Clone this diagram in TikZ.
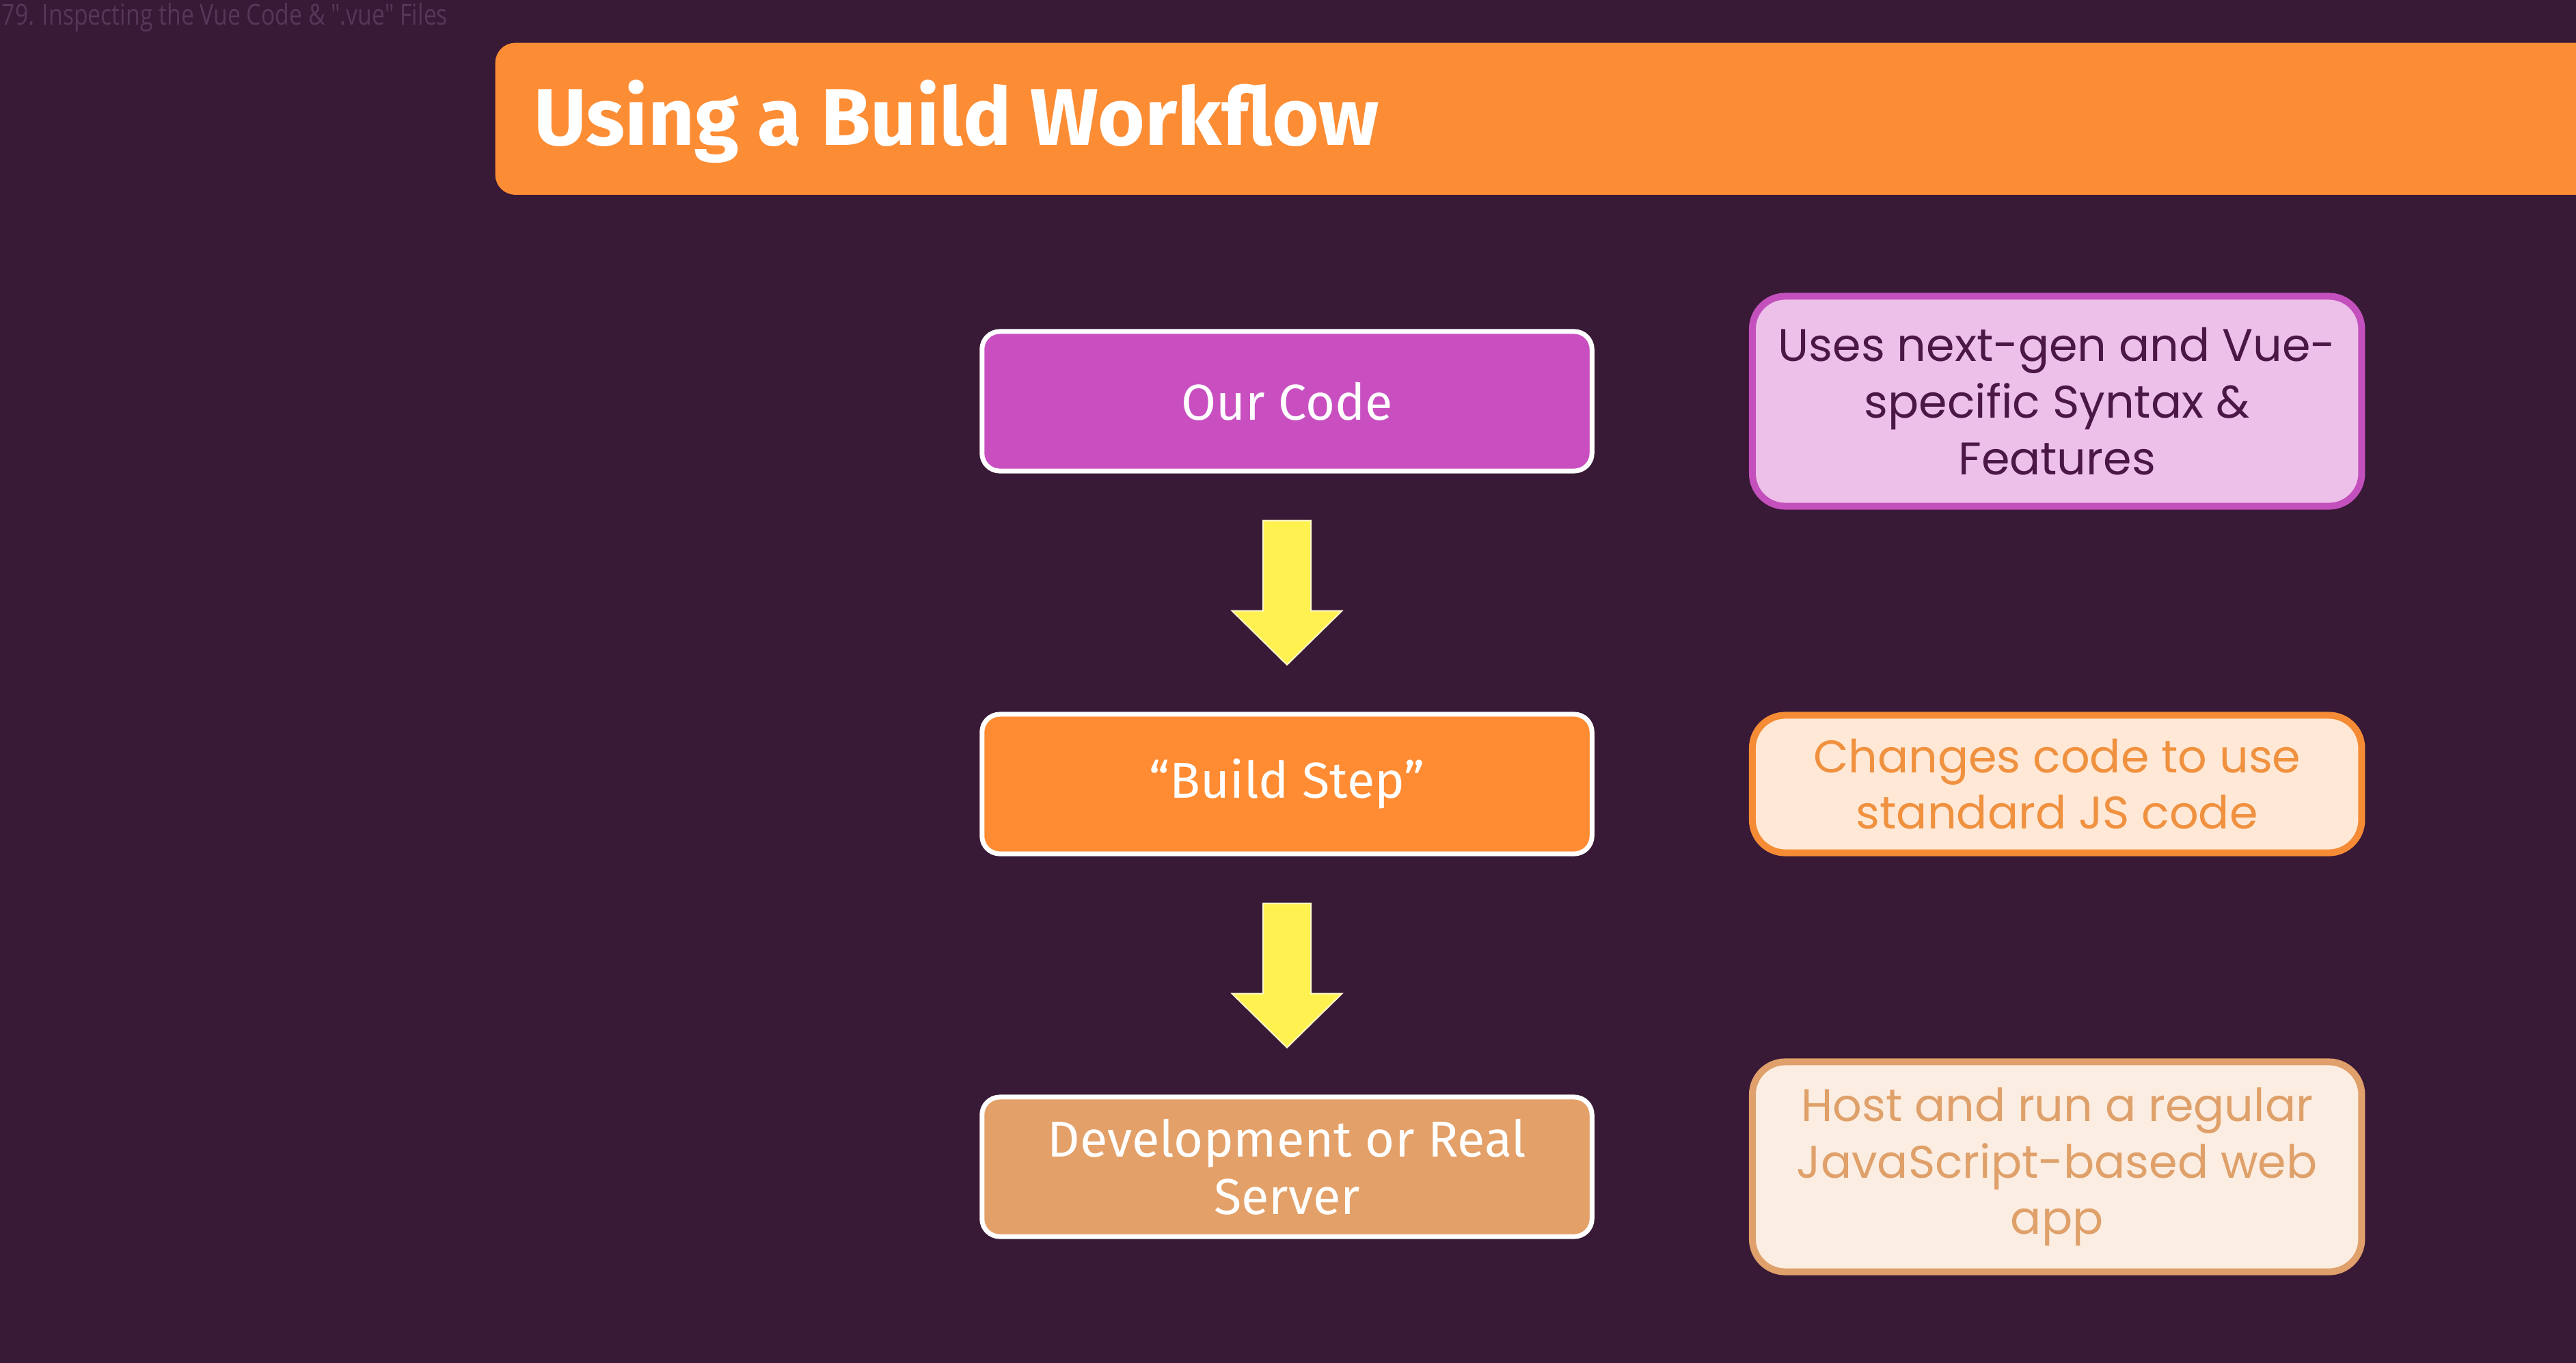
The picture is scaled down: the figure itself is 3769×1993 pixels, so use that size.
\documentclass[tikz,border=0pt]{standalone}
\usepackage{fontspec}
\setmainfont{Fira Sans}
\newfontfamily\notefont{Poppins}
\newfontfamily\headfont[FakeStretch=0.8]{Open Sans}
\usetikzlibrary{calc,positioning}
\definecolor{colorbg}{HTML}{381936}
\definecolor{colorhead}{HTML}{553858}
\definecolor{colortitle}{HTML}{FD8D35}
\definecolor{colorcode}{HTML}{C94FC1}
\definecolor{colorbuild}{HTML}{FF8C33}
\definecolor{colorserver}{HTML}{E3A068}
\definecolor{colorarrow}{HTML}{FFF250}
\definecolor{colorarrowline}{HTML}{FFF9C8}
\definecolor{colorcodebg}{HTML}{EDC0EA}
\definecolor{colorcodeline}{HTML}{C350BC}
\definecolor{colorcodetext}{HTML}{4B1846}
\definecolor{colorbuildbg}{HTML}{FFE8D6}
\definecolor{colorbuildline}{HTML}{F58C35}
\definecolor{colorbuildtext}{HTML}{F0913F}
\definecolor{colorserverbg}{HTML}{FBEDE1}
\definecolor{colorserverline}{HTML}{E0A06B}
\definecolor{colorservertext}{HTML}{DFA06A}
\tikzset{
  stepbox/.style={draw=white, line width=0.07cm, rounded corners=0.26cm,
    minimum width=8.92cm, minimum height=2.04cm, align=center, text=white,
    font=\fontsize{21}{24}\selectfont},
  notebox/.style={line width=0.1cm, rounded corners=0.48cm,
    minimum width=8.91cm, align=center,
    font=\notefont\fontsize{19}{23.5}\selectfont},
  flowarrow/.style={fill=colorarrow, draw=colorarrowline, line width=0.02cm}
}

\begin{document}
\begin{tikzpicture}[x=0.01cm, y=-0.01cm]
\useasboundingbox (0,0) rectangle (3769,1993);
\fill[colorbg] (-20,-20) rectangle (3789,2013);

\node[anchor=base west, inner sep=0pt, text=colorhead,
  font=\headfont\fontsize{12}{14}\selectfont] (head) at (2,36)
{79. Inspecting the Vue Code \& ".vue" Files};

\node[fill=colortitle, rounded corners=0.29cm, minimum width=31cm,
  minimum height=2.22cm, anchor=north west, inner sep=0pt] (bar) at (724,62) {};
\node[anchor=base west, inner sep=0pt, text=white,
  font=\bfseries\fontsize{33.5}{38}\selectfont] (title) at (781,212)
{Using a Build Workflow};

% main chain
\node[stepbox, fill=colorcode] (code) at (1883,587) {Our Code};
\node[stepbox, fill=colorbuild] (build) at (1883,1147) {“Build Step”};
\node[stepbox, fill=colorserver] (server) at (1883,1707)
{Development or Real\\Server};

% notes
\node[notebox, right=2.26cm of code, minimum height=3.07cm,
  draw=colorcodeline, fill=colorcodebg, text=colorcodetext] (codenote)
{Uses next-gen and Vue-\\specific Syntax \&\\Features};
\node[notebox, right=2.26cm of build, minimum height=2.01cm,
  draw=colorbuildline, fill=colorbuildbg, text=colorbuildtext] (buildnote)
{Changes code to use\\standard JS code};
\node[notebox, right=2.26cm of server, minimum height=3.07cm,
  draw=colorserverline, fill=colorserverbg, text=colorservertext] (servernote)
{Host and run a regular\\JavaScript-based web\\app};

% block arrows
\foreach \from/\to in {code/build, build/server} {
  \coordinate (mid) at ($(\from.south)!0.5!(\to.north)$);
  \draw[flowarrow] (mid) ++(-35,-105.5) -- ++(70,0) -- ++(0,132)
    -- ++(45.5,0) -- ++(-80.5,79) -- ++(-80.5,-79) -- ++(45.5,0) -- cycle;
}
\end{tikzpicture}
\end{document}
